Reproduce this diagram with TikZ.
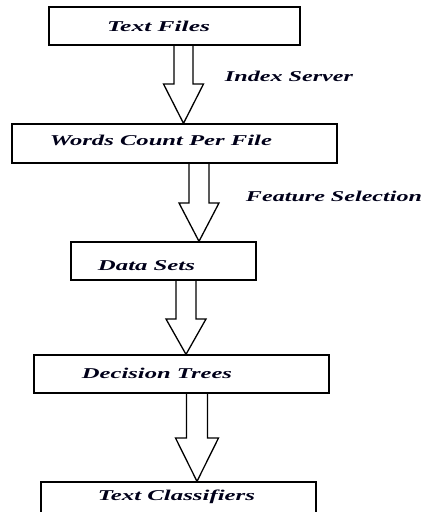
\documentclass[tikz,border=0pt]{standalone}
\usepackage{fontspec}
\setmainfont{Liberation Serif}
\usetikzlibrary{calc}
\newcommand\fw[2]{\resizebox{#1}{\height}{\fontsize{15}{17}\selectfont\bfseries\itshape #2}}
\tikzset{
  box/.style={draw=black, line width=1.3pt, rectangle, inner sep=0pt},
  lbl/.style={inner sep=0pt, text=black!90!blue},
  blk/.style={draw=black, line width=1.3pt, line join=miter}
}
\newcommand\blockarrow[6]{% from, to, cx, head base y, half shaft, half head
  \draw[blk] let \p1=(#1.south), \p2=(#2.north) in
    ({#3-#5},\y1) -- ({#3-#5},#4) -- ({#3-#6},#4) -- (#3,\y2) -- ({#3+#6},#4) -- ({#3+#5},#4) -- ({#3+#5},\y1);}
\begin{document}
\begin{tikzpicture}[x=1pt,y=-1pt]
\useasboundingbox (0,0) rectangle (428,512);
\node[box, minimum width=251pt, minimum height=38pt] (b1) at (174.5,26) {};
\node[box, minimum width=325pt, minimum height=39pt] (b2) at (174.5,143.5) {};
\node[box, minimum width=185pt, minimum height=38pt] (b3) at (163.5,261) {};
\node[box, minimum width=295pt, minimum height=38pt] (b4) at (181.5,374) {};
\node[box, minimum width=275pt, minimum height=34pt] (b5) at (178.5,499) {};
\node[lbl] (t1) at (158.5,26) {\fw{103pt}{Text Files}};
\node[lbl] (t2) at (161,140) {\fw{222pt}{Words Count Per File}};
\node[lbl] (t3) at (146.5,266) {\fw{97pt}{Data Sets}};
\node[lbl] (t4) at (157,373) {\fw{150pt}{Decision Trees}};
\node[lbl] (t5) at (176.5,497) {\fw{157pt}{Text Classifiers}};
\node[lbl] (l1) at (289,76) {\fw{128pt}{Index Server}};
\node[lbl] (l2) at (334,196) {\fw{176pt}{Feature Selection}};
\blockarrow{b1}{b2}{183.5}{84}{9.5}{20}
\blockarrow{b2}{b3}{199}{203}{10}{20}
\blockarrow{b3}{b4}{186}{319}{10}{20}
\blockarrow{b4}{b5}{197}{438}{10.5}{21.5}
\end{tikzpicture}
\end{document}
